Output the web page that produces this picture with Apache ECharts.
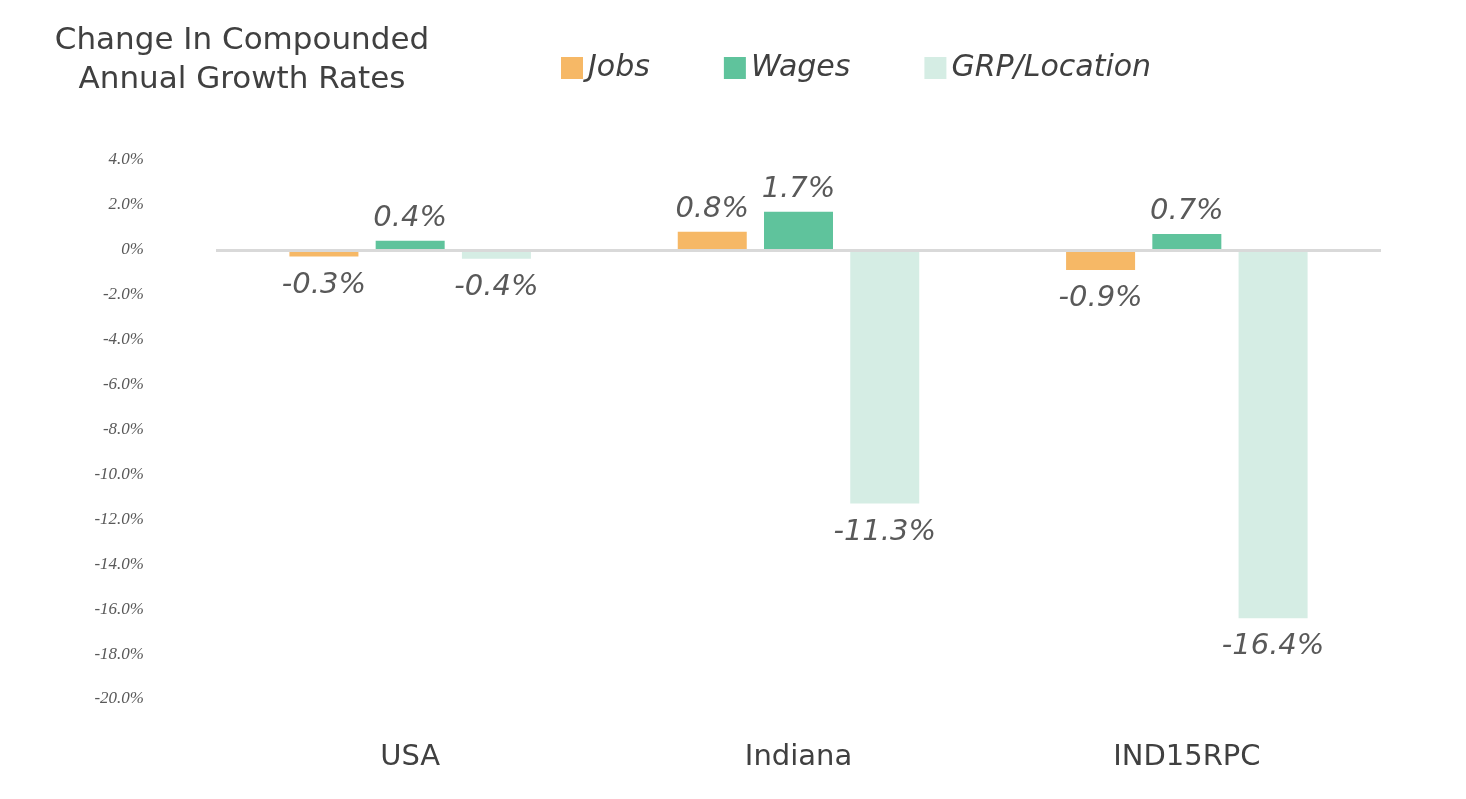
<!DOCTYPE html>
<html>
<head>
<meta charset="utf-8">
<script src="https://cdn.jsdelivr.net/npm/echarts@6/dist/echarts.min.js"></script>
<style>html,body{margin:0;padding:0;background:#fff;}#c{width:1466px;height:799px;}</style>
</head>
<body>
<div id="c"></div>
<script>
const categories = ['USA', 'Indiana', 'IND15RPC'];
const jobs = [-0.3, 0.8, -0.9];
const wages = [0.4, 1.7, 0.7];
const grpLocation = [-0.4, -11.3, -16.4];
const seriesNames = ['Jobs', 'Wages', 'GRP/Location'];
const colors = ['#F6B866', '#5FC39C', '#D5EDE4'];

const chart = echarts.init(document.getElementById('c'));
const sansFont = 'DejaVu Sans';
function mkSeries(name, data, color, withLine) {
  const s = {
    name: name,
    type: 'bar',
    data: data.map(v => ({
      value: v,
      label: { position: v >= 0 ? 'top' : 'bottom', distance: v >= 0 ? 8 : 14 }
    })),
    barWidth: 69,
    barGap: '25%',
    itemStyle: { color: color },
    label: {
      show: true,
      formatter: p => p.value.toFixed(1) + '%',
      fontFamily: sansFont,
      fontStyle: 'italic',
      fontSize: 29,
      color: '#595959'
    }
  };
  if (withLine) {
    s.markLine = {
      silent: true,
      symbol: 'none',
      label: { show: false },
      lineStyle: { color: '#D9D9D9', width: 3, type: 'solid' },
      data: [{ yAxis: 0 }]
    };
  }
  return s;
}
chart.setOption({
  animation: false,
  title: {
    text: 'Change In Compounded\nAnnual Growth Rates',
    left: 237,
    top: 16,
    textAlign: 'center',
    textStyle: { fontFamily: sansFont, fontWeight: 'normal', fontSize: 31, lineHeight: 39, color: '#404040' }
  },
  legend: {
    left: 556,
    top: 48,
    itemWidth: 22,
    itemHeight: 22,
    itemGap: 74,
    icon: 'rect',
    textStyle: { fontFamily: sansFont, fontStyle: 'italic', fontSize: 30, color: '#404040', padding: [0, 0, 0, 0] },
    data: seriesNames
  },
  grid: { left: 216, right: 85, top: 160, bottom: 100 },
  xAxis: {
    type: 'category',
    data: categories,
    axisLine: { show: false, onZero: false },
    axisTick: { show: false },
    position: 'bottom',
    axisLabel: { margin: 44, fontFamily: sansFont, fontSize: 29, color: '#404040' }
  },
  yAxis: {
    type: 'value',
    min: -20,
    max: 4,
    interval: 2,
    splitLine: { show: false },
    axisLine: { show: false },
    axisTick: { show: false },
    axisLabel: {
      margin: 72,
      formatter: v => v === 0 ? '0%' : v.toFixed(1) + '%',
      fontFamily: 'Liberation Serif',
      fontStyle: 'italic',
      fontSize: 17,
      color: '#595959'
    }
  },
  series: [
    mkSeries(seriesNames[0], jobs, colors[0], true),
    mkSeries(seriesNames[1], wages, colors[1], false),
    mkSeries(seriesNames[2], grpLocation, colors[2], false)
  ]
});
</script>
</body>
</html>
